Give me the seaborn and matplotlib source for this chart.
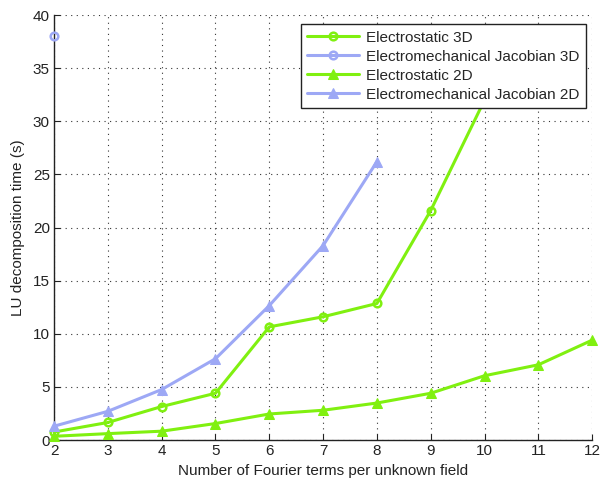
import matplotlib
matplotlib.use("Agg")
import matplotlib.pyplot as plt
import seaborn as sns
import pandas as pd

terms_es3d = [2, 3, 4, 5, 6, 7, 8, 9, 10]
es3d = [0.75, 1.65, 3.15, 4.4, 10.65, 11.6, 12.85, 21.6, 32.0]
terms_ej3d = [2]
ej3d = [38.0]
terms_es2d = [2, 3, 4, 5, 6, 7, 8, 9, 10, 11, 12]
es2d = [0.35, 0.6, 0.83, 1.55, 2.45, 2.8, 3.48, 4.4, 6.05, 7.08, 9.4]
terms_ej2d = [2, 3, 4, 5, 6, 7, 8]
ej2d = [1.3, 2.7, 4.75, 7.65, 12.65, 18.3, 26.2]

labels = ["Electrostatic 3D", "Electromechanical Jacobian 3D",
          "Electrostatic 2D", "Electromechanical Jacobian 2D"]
green = "#80F010"
blue = "#9DA8F5"

sns.set_theme(style="white")
plt.rcParams['font.family'] = ['Liberation Sans', 'DejaVu Sans']

fig = plt.figure(figsize=(6.03, 4.84), dpi=100)
ax = fig.add_axes([0.0896, 0.0909, 0.8924, 0.878])

series = [
    (terms_es3d, es3d, labels[0], green, "o"),
    (terms_ej3d, ej3d, labels[1], blue, "o"),
    (terms_es2d, es2d, labels[2], green, "^"),
    (terms_ej2d, ej2d, labels[3], blue, "^"),
]
for xs, ys, lab, col, mk in series:
    df = pd.DataFrame({"x": xs, "y": ys})
    if mk == "o":
        sns.lineplot(data=df, x="x", y="y", ax=ax, color=col, lw=2.2,
                     marker="o", markersize=5.5, markerfacecolor="none",
                     markeredgecolor=col, markeredgewidth=1.8, label=lab,
                     clip_on=False, zorder=3)
    else:
        sns.lineplot(data=df, x="x", y="y", ax=ax, color=col, lw=2.2,
                     marker="^", markersize=7.5, markerfacecolor=col,
                     markeredgecolor=col, label=lab, clip_on=False, zorder=3)

ax.set_xlim(2, 12)
ax.set_ylim(0, 40)
ax.set_xticks(range(2, 13))
ax.set_yticks(range(0, 41, 5))
ax.grid(True, linestyle=(0, (1, 4)), color="#333333", linewidth=0.8)
for s in ["top", "right"]:
    ax.spines[s].set_visible(False)
for s in ["left", "bottom"]:
    ax.spines[s].set_color("#222222")
    ax.spines[s].set_linewidth(1.0)
ax.tick_params(direction="in", length=4, width=0.8, colors="#222222",
               labelsize=11, labelcolor="#222222", bottom=True, left=True, pad=3)
ax.set_xlabel("Number of Fourier terms per unknown field", fontsize=11, color="#222222", labelpad=4)
ax.set_ylabel("LU decomposition time (s)", fontsize=11, color="#222222", labelpad=6)

leg = ax.legend(loc="upper right", bbox_to_anchor=(0.988, 0.978), fontsize=11,
                frameon=True, fancybox=False, edgecolor="#222222", framealpha=1,
                borderpad=0.4, labelspacing=0.33, handlelength=3.4, handletextpad=0.45,
                borderaxespad=0)
leg.get_frame().set_linewidth(1.0)
leg.set_zorder(10)

fig.savefig("out.png", dpi=100)
